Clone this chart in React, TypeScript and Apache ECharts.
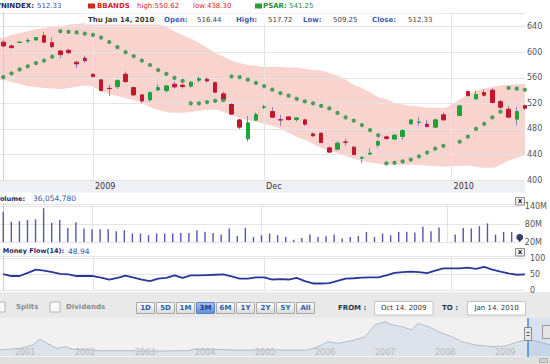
import React, { useEffect, useRef } from "react";
import * as echarts from "echarts";

// ---------- DATA ----------
const opens = [615.6, 609.8, 615.2, 617.5, 619.2, 625.9, 615, 602, 603.1, 584.3, 590.6, 565.6, 556.7, 543.5, 546.2, 565.6, 544.6, 533.2, 525.4, 541, 540, 549.9, 548.4, 546.8, 556.2, 557.8, 552.4, 534.8, 518.1, 494.1, 464.4, 493.7, 513.5, 507.1, 494.3, 498.8, 494.6, 494.1, 472.2, 473.3, 450.3, 448.3, 459.5, 451.4, 434.2, 440.5, 454.6, 467.5, 464, 468, 487.9, 490.2, 487.4, 482.7, 502, null, 500.9, 538.4, 527, 536.8, 540.6, 522.7, 510.8, 495.2, 516.44];
const closes = [609.8, 607.2, 616, 618.5, 622.8, 615.6, 608.7, 596.2, 599.3, 581.7, 586.8, 561.8, 540, 543, 555.6, 554, 533.2, 523.8, 536.8, 544.6, 547.3, 545.7, 546.2, 553.1, 558.7, 555.1, 537.4, 526.5, 503.1, 482.7, 489.4, 502.4, 514.5, 498.3, 494, 494.6, 497.2, 487.4, 469.1, 458.6, 443.6, 457.7, 459.2, 439.9, 435.2, 442, 460.2, 464.9, 470.2, 477.4, 494.1, 490.8, 483.6, 494.1, 494.1, null, 516, 532.1, 533.7, 532.7, 521.2, 513.9, 498.3, 507.1, 512.33];
const lows = [608, 605.6, 614.5, 614, 618.5, 615, 607, 590.6, 596.9, 575, 583.7, 561, 539, 531.7, 542.6, 552.4, 531.7, 520.2, 522.7, 539, 536.8, 543.7, 543, 544.6, 552.4, 552.4, 536.8, 525.4, 502, 479.6, 460.2, 492.6, 510.9, 496.8, 484.8, 493, 491.5, 484.8, 468, 457.7, 442, 446.1, 453.5, 438.3, 426.4, 439.4, 450.8, 462.9, 462.9, 462.9, 486.5, 484.8, 482.7, 481.5, 493, null, 499.5, 530.6, 525.4, 530.6, 520.2, 511.8, 497.3, 485.2, 509.25];
const highs = [619.2, 611.9, 616.5, 621.8, 623.5, 632.2, 623.4, 603, 604.7, 586.8, 594.7, 567, 557.8, 548.9, 557.8, 569.6, 546.2, 534.5, 539, 549.9, 548.4, 554, 550.4, 555.1, 561.8, 560.9, 554, 538.4, 520.2, 495.7, 500.4, 505.5, 517.6, 514, 502, 499.8, 498.3, 495.7, 474.3, 474.3, 452.4, 460.8, 464.4, 453.5, 437.4, 449.9, 462.9, 469.6, 471.8, 479.6, 495, 498.3, 494.1, 496, 505.5, null, 517.5, 540, 539.5, 542.1, 543.7, 525.4, 516, 514, 517.72];
const psar = [561, 567, 573, 578, 583, 587, 593, 633, 632, 631, 629, 627, 623, 616, 608, 600, 594, 587, 580, 572, 566, 560, 555, 520, 520, 522, 524, 525, 562, 561, 557, 552, 547, 541.5, 536, 532, 527, 523, 520, 516, 512, 505, 498, 493, 486, 478, 470, 426, 427, 429, 432, 437, 443, 449, 453.5, null, 460, 468, 480, 488, 498, 507, 544, 543, 541.25];
const bbUpper = [623, 627, 630, 633, 636, 638, 640, 641, 643, 644, 646, 647, 647, 648, 649, 649, 649, 648, 647, 645, 640, 633, 627, 621, 615, 607, 599, 593, 587, 583, 580, 579, 577, 577, 577, 576, 576, 574, 572, 571, 568, 563, 557, 549, 544, 537, 530, 526, 521, 518, 516, 515, 513, 513, 513, null, 526, 533, 540, 543, 546, 548, 549, 550, 550.62];
const bbLower = [556.7, 553.5, 550.4, 547.3, 545.7, 544.2, 543.4, 542.6, 544.2, 546, 548, 546, 539, 534.8, 531.6, 528.5, 525.4, 520.7, 514.4, 509.8, 506.6, 505.1, 505.1, 506.6, 508.2, 509.8, 509.8, 506.6, 501.9, 497.2, 494.1, 491, 487.9, 484.8, 480.1, 473.8, 467.5, 462.9, 456.6, 450.3, 445.7, 442.6, 437.9, 433.2, 430.1, 427, 425.4, 423.8, 423.8, 423.8, 423.8, 423.8, 422.3, 422.3, 420.8, null, 422.3, 422.3, 420.8, 419.2, 419.2, 423.8, 430.1, 434.8, 438.3];
const volumeM = [123, 89, 91, 95, 97, 135, 85.5, 95, 68, 87, 66, 63, 63, 63, 57, 60, 49, 49, 43, 49, 49, 49, 51, 51, 60, 54.5, 51, 45.5, 66, 40.7, 68, 37, 43, 49, 43, 37, 28, 34, 45.5, 37, 39.7, 45.5, 31.7, 37, 40.7, 54.5, 37, 49, 43, 54.5, 54.5, 52.4, 71.7, 57, 69.7, null, 45.5, 68, 66, 74, 83.4, 45.5, 54.5, 54.5, 36.05];
const moneyFlow = [50, 44, 44, 54, 64, 61, 56, 51, 49, 44, 44, 44, 39, 33, 38, 45, 39, 33, 28, 36, 38, 46, 38, 46, 46, 47, 48, 49, 43, 36, 36, 40, 40, 33, 34, 33, 38, 28, 20.5, 20.5, 21.5, 28.5, 36, 37, 39, 40, 40, 46, 54, 56, 58, 56, 53, 61, 68, null, 68, 70.5, 66.5, 72.7, 64.4, 58, 52, 48, 48.94];
const xTickIdx = [11, 32, 55];
const xTickLabels = ["2009", "Dec", "2010"];
const navYears = [2000.78, 2001.12, 2001.33, 2001.45, 2001.57, 2001.73, 2001.87, 2002.0, 2002.45, 2002.95, 2003.45, 2003.9, 2004.03, 2004.33, 2004.7, 2005.37, 2005.92, 2006.08, 2006.25, 2006.42, 2006.65, 2006.87, 2007.03, 2007.2, 2007.32, 2007.48, 2007.65, 2007.75, 2007.92, 2008.15, 2008.32, 2008.48, 2008.7, 2008.98, 2009.2, 2009.37, 2009.58, 2009.82, 2009.95];
const navValues = [205, 263, 376, 571, 434, 263, 318, 229, 181, 181, 171, 181, 229, 229, 205, 205, 205, 318, 489, 434, 523, 660, 1060, 1173, 1060, 1002, 889, 1118, 1002, 776, 660, 489, 376, 318, 342, 455, 571, 455, 376];
const navLabelYears = [2001, 2002, 2003, 2004, 2005, 2006, 2007, 2008, 2009];
const rangeButtons = ["1D", "5D", "1M", "3M", "6M", "1Y", "2Y", "5Y", "All"];
const selectedButton = "3M";

// ---------- STYLE ----------
const FONT = '"DejaVu Sans", Verdana, sans-serif';
const GRID_LINE = "#e4e4e4";
const RED = "#c3162d";
const GREEN = "#1ea33b";
const WICK = "#8585c6";
const X_MIN = -0.405;
const X_MAX = 64.01;

function txt(x: number, y: number, text: string, fill: string, opts: any = {}) {
  const size = opts.size ?? 7;
  const align = opts.align ?? "left";
  return {
    type: "text",
    x,
    y,
    z: opts.z ?? 21,
    silent: true,
    style: {
      text,
      fill,
      font: `${opts.bold ? "bold " : ""}${size}px ${FONT}`,
      textAlign: align,
      textVerticalAlign: "middle",
      align,
      verticalAlign: "middle",
    },
  };
}

function buildOption() {
  const idxs = opens.map((_, i) => i).filter((i) => opens[i] != null);
  const wickData = idxs.map((i) => [i, opens[i], closes[i], lows[i], highs[i]]);
  const bodyData = idxs.map((i) => [
    i,
    opens[i],
    closes[i],
    Math.min(opens[i] as number, closes[i] as number),
    Math.max(opens[i] as number, closes[i] as number),
  ]);
  const bbIdx = bbUpper.map((_, i) => i).filter((i) => bbUpper[i] != null);
  const upperPts = [[X_MIN, bbUpper[0]], ...bbIdx.map((i) => [i, bbUpper[i]])];
  const lowerPts = [[X_MIN, bbLower[0]], ...bbIdx.map((i) => [i, bbLower[i]])];
  const psarPts = psar.map((v, i) => [i, v]).filter((p) => p[1] != null);
  const volPts = volumeM.map((v, i) => [i, v]).filter((p) => p[1] != null);
  const mfPts = moneyFlow.map((v, i) => [i, v]).filter((p) => p[1] != null);
  const navPts = navYears.map((y, i) => [y, navValues[i]]);
  const last = volumeM.length - 1;

  const xAxisFor = (gridIndex: number, labels: boolean) => ({
    type: "value",
    gridIndex,
    min: X_MIN,
    max: X_MAX,
    axisLine: { show: false },
    axisTick: { show: false, customValues: xTickIdx },
    splitLine: { show: true, lineStyle: { color: GRID_LINE, width: 1 } },
    axisLabel: labels
      ? {
          show: true,
          customValues: xTickIdx,
          formatter: (v: number) => xTickLabels[xTickIdx.indexOf(Math.round(v))] ?? "",
          align: "left",
          margin: 2,
          padding: [0, 0, 0, 2],
          color: "#333",
          fontSize: 8,
          fontFamily: FONT,
        }
      : { show: false },
  });

  const graphic: any[] = [];
  // x label strip
  graphic.push({ type: "rect", z: -5, silent: true, shape: { x: 0, y: 180.5, width: 525, height: 12 }, style: { fill: "#eef0f5" } });
  // header row 1
  graphic.push(txt(34, 6, "VNINDEX:", "#1b2a60", { bold: true, align: "right" }));
  graphic.push(txt(37, 6, "512.33", "#3456ad"));
  graphic.push({ type: "rect", z: 21, silent: true, shape: { x: 88, y: 3.5, width: 7, height: 5 }, style: { fill: "#d8261c" } });
  graphic.push(txt(97, 6, "BBANDS", "#d8261c", { bold: true }));
  graphic.push(txt(137, 6, "high:550.62", "#d8261c"));
  graphic.push(txt(193, 6, "low:438.30", "#d8261c"));
  graphic.push({ type: "rect", z: 21, silent: true, shape: { x: 255, y: 3.5, width: 7, height: 5 }, style: { fill: "#2e9a3a" } });
  graphic.push(txt(263, 6, "PSAR:", "#2e8b34", { bold: true }));
  graphic.push(txt(289, 6, "541.25", "#2e8b34"));
  // header row 2 (box over plot)
  graphic.push({ type: "rect", z: 20, silent: true, shape: { x: 85, y: 13.5, width: 358, height: 11 }, style: { fill: "#ffffff" } });
  const row2: [number, string, string, boolean][] = [
    [88, "Thu Jan 14, 2010", "#3a3a3a", true],
    [164, "Open:", "#3d5fb5", true],
    [197, "516.44", "#444", false],
    [236, "High:", "#3d5fb5", true],
    [268, "517.72", "#444", false],
    [303, "Low:", "#3d5fb5", true],
    [333, "509.25", "#444", false],
    [372, "Close:", "#3d5fb5", true],
    [408, "512.33", "#444", false],
  ];
  row2.forEach(([x, t, c, b]) => graphic.push(txt(x, 19.5, t, c, { bold: b })));
  // Volume header
  graphic.push(txt(25, 198.5, "Volume:", "#1b2a60", { bold: true, align: "right", size: 6.5 }));
  graphic.push(txt(33, 198.5, "36,054,780", "#3456ad", { size: 7.5 }));
  // Money flow header
  graphic.push(txt(64, 251, "Money Flow(14):", "#1b2a60", { bold: true, align: "right", size: 6.5 }));
  graphic.push(txt(68, 251, "48.94", "#3456ad", { size: 7.5 }));
  // close boxes
  [197.5, 248.5].forEach((y) => {
    graphic.push({ type: "rect", z: 21, silent: true, shape: { x: 515.5, y, width: 9, height: 7.5 }, style: { fill: "#f2f2f2", stroke: "#8a8a8a", lineWidth: 1 } });
    graphic.push(txt(520, y + 3.6, "x", "#222", { bold: true, align: "center", size: 7 }));
  });
  // toolbar and navigator backgrounds
  graphic.push({ type: "rect", z: -5, silent: true, shape: { x: 0, y: 292, width: 550, height: 26 }, style: { fill: "#e9e9e9" } });
  graphic.push({ type: "rect", z: -5, silent: true, shape: { x: 0, y: 318, width: 550, height: 39 }, style: { fill: "#f1f1f1" } });
  graphic.push({ type: "rect", z: -5, silent: true, shape: { x: 0, y: 357, width: 550, height: 7 }, style: { fill: "#e0e0e0" } });
  // checkboxes
  [[-5, 302], [50, 302]].forEach(([x, y]) => {
    graphic.push({ type: "rect", z: 10, silent: true, shape: { x, y, width: 10, height: 10 }, style: { fill: "#fafafa", stroke: "#b5b5b5", lineWidth: 1 } });
  });
  graphic.push(txt(16, 307, "Splits", "#8a8a8a", { bold: true }));
  graphic.push(txt(66, 307, "Dividends", "#8a8a8a", { bold: true }));
  // buttons
  rangeButtons.forEach((b, i) => {
    const sel = b === selectedButton;
    const x = 136.5 + i * 20;
    graphic.push({
      type: "rect",
      z: 10,
      silent: true,
      shape: { x, y: 302.5, width: 18, height: 11 },
      style: {
        fill: sel
          ? new echarts.graphic.LinearGradient(0, 0, 0, 1, [{ offset: 0, color: "#a9c4ee" }, { offset: 1, color: "#5d8dd6" }])
          : new echarts.graphic.LinearGradient(0, 0, 0, 1, [{ offset: 0, color: "#ffffff" }, { offset: 1, color: "#dadada" }]),
        stroke: sel ? "#5a7fc0" : "#a9a9a9",
        lineWidth: 1,
      },
    });
    graphic.push(txt(x + 9, 308, b, sel ? "#1c3a86" : "#2b5cb8", { bold: true, align: "center", size: 7 }));
  });
  // FROM / TO
  graphic.push(txt(338, 308, "FROM :", "#1d3b4a", { bold: true }));
  graphic.push({ type: "rect", z: 10, silent: true, shape: { x: 374.5, y: 301.5, width: 58.5, height: 13.5 }, style: { fill: "#ffffff", stroke: "#c4c4c4", lineWidth: 1 } });
  graphic.push(txt(403.7, 308.3, "Oct 14. 2009", "#333", { align: "center", size: 7 }));
  graphic.push(txt(442, 308, "TO :", "#1d3b4a", { bold: true }));
  graphic.push({ type: "rect", z: 10, silent: true, shape: { x: 467.5, y: 301.5, width: 58, height: 13.5 }, style: { fill: "#ffffff", stroke: "#c4c4c4", lineWidth: 1 } });
  graphic.push(txt(496.5, 308.3, "Jan 14. 2010", "#333", { align: "center", size: 7 }));
  // navigator selection & handles
  graphic.push({ type: "rect", z: 10, silent: true, shape: { x: 528, y: 318, width: 22, height: 39 }, style: { fill: "rgba(90,140,215,0.16)" } });
  graphic.push({ type: "line", z: 11, silent: true, shape: { x1: 528, y1: 318, x2: 528, y2: 357 }, style: { stroke: "#3d8ee0", lineWidth: 1.5 } });
  graphic.push({ type: "rect", z: 12, silent: true, shape: { x: 524.5, y: 327.5, width: 7, height: 13 }, style: { fill: "#e6e6e6", stroke: "#8a8a8a", lineWidth: 1 } });
  graphic.push({ type: "line", z: 13, silent: true, shape: { x1: 526.5, y1: 332.5, x2: 529.5, y2: 332.5 }, style: { stroke: "#555", lineWidth: 1 } });
  graphic.push({ type: "line", z: 13, silent: true, shape: { x1: 526.5, y1: 335.5, x2: 529.5, y2: 335.5 }, style: { stroke: "#555", lineWidth: 1 } });
  graphic.push({ type: "rect", z: 12, silent: true, shape: { x: 542.5, y: 325.5, width: 8, height: 13 }, style: { fill: "#e6e6e6", stroke: "#9a9a9a", lineWidth: 1 } });
  graphic.push({ type: "rect", z: 12, silent: true, shape: { x: 539.5, y: 358.5, width: 8, height: 4 }, style: { fill: "#cfcfcf", stroke: "#b0b0b0", lineWidth: 1 } });

  return {
    animation: false,
    backgroundColor: "#ffffff",
    textStyle: { fontFamily: FONT },
    grid: [
      { left: 0, top: 13, width: 525, height: 167 },
      { left: 0, top: 203.8, width: 525, height: 38.2 },
      { left: 0, top: 256, width: 525, height: 34 },
      { left: 0, top: 318, width: 550, height: 38 },
    ],
    xAxis: [
      xAxisFor(0, true),
      xAxisFor(1, false),
      xAxisFor(2, false),
      {
        type: "value",
        gridIndex: 3,
        min: 2000.783,
        max: 2009.95,
        z: 5,
        axisLine: { show: false },
        axisTick: { show: false, customValues: navLabelYears },
        splitLine: { show: false },
        axisLabel: {
          show: true,
          inside: true,
          customValues: navLabelYears,
          formatter: (v: number) => String(Math.round(v)),
          align: "left",
          verticalAlign: "middle",
          margin: 4,
          padding: [0, 0, 0, 2],
          color: "#b9b9b9",
          fontSize: 8,
          fontFamily: FONT,
        },
      },
    ],
    yAxis: [
      {
        type: "value",
        gridIndex: 0,
        position: "right",
        min: 400,
        max: 661.4,
        interval: 40,
        axisLine: { show: true, lineStyle: { color: "#cfcfcf" } },
        axisTick: { show: false },
        splitLine: { show: true, lineStyle: { color: GRID_LINE } },
        axisLabel: { color: "#555", fontSize: 8, fontFamily: FONT, margin: 2, formatter: (v: number) => (v > 640 ? "" : String(v)) },
      },
      {
        type: "value",
        gridIndex: 1,
        position: "right",
        min: 20,
        max: 150,
        interval: 60,
        axisLine: { show: true, lineStyle: { color: "#cfcfcf" } },
        axisTick: { show: false },
        splitLine: { show: true, lineStyle: { color: GRID_LINE } },
        axisLabel: { color: "#555", fontSize: 8, fontFamily: FONT, margin: 5, formatter: (v: number) => (v > 140 ? "" : v + "M") },
      },
      {
        type: "value",
        gridIndex: 2,
        position: "right",
        min: 0,
        max: 107,
        interval: 50,
        axisLine: { show: true, lineStyle: { color: "#cfcfcf" } },
        axisTick: { show: false },
        splitLine: { show: true, lineStyle: { color: GRID_LINE } },
        axisLabel: { color: "#555", fontSize: 8, fontFamily: FONT, margin: 5, formatter: (v: number) => (v > 100 ? "" : String(v)) },
      },
      { type: "value", gridIndex: 3, min: 0, max: 1300, show: false },
    ],
    series: [
      {
        type: "line",
        xAxisIndex: 0,
        yAxisIndex: 0,
        data: upperPts,
        smooth: 0.35,
        symbol: "none",
        silent: true,
        z: -1,
        lineStyle: { width: 0 },
        areaStyle: { color: "#f9d3ce", opacity: 1, origin: "start" },
      },
      {
        type: "line",
        xAxisIndex: 0,
        yAxisIndex: 0,
        data: lowerPts,
        smooth: 0.35,
        symbol: "none",
        silent: true,
        z: -1,
        lineStyle: { width: 0 },
        areaStyle: { color: "#ffffff", opacity: 1, origin: "start" },
      },
      {
        type: "candlestick",
        xAxisIndex: 0,
        yAxisIndex: 0,
        data: wickData,
        barWidth: 1,
        z: 2,
        itemStyle: { color: WICK, color0: WICK, borderColor: WICK, borderColor0: WICK, borderWidth: 1 },
      },
      {
        type: "candlestick",
        xAxisIndex: 0,
        yAxisIndex: 0,
        data: bodyData,
        barWidth: 4,
        z: 3,
        itemStyle: { color: GREEN, color0: RED, borderColor: GREEN, borderColor0: RED, borderWidth: 1 },
      },
      {
        type: "scatter",
        xAxisIndex: 0,
        yAxisIndex: 0,
        data: psarPts,
        symbolSize: 4.3,
        z: 4,
        itemStyle: { color: "#23913e" },
      },
      {
        type: "bar",
        xAxisIndex: 1,
        yAxisIndex: 1,
        data: volPts,
        barWidth: 1.4,
        itemStyle: { color: "#5656ad" },
      },
      {
        type: "scatter",
        xAxisIndex: 1,
        yAxisIndex: 1,
        data: [[last, volumeM[last]]],
        symbolSize: 7,
        clip: false,
        z: 5,
        itemStyle: { color: "#12124e" },
      },
      {
        type: "line",
        xAxisIndex: 2,
        yAxisIndex: 2,
        data: mfPts,
        symbol: "none",
        lineStyle: { color: "#2a3799", width: 1.8 },
      },
      {
        type: "line",
        xAxisIndex: 3,
        yAxisIndex: 3,
        data: navPts,
        symbol: "none",
        z: -2,
        lineStyle: { color: "#b3bccb", width: 1 },
        areaStyle: { color: "#dde3eb", opacity: 1 },
      },
    ],
    graphic,
  };
}

export default function App() {
  const ref = useRef<HTMLDivElement>(null);
  useEffect(() => {
    const chart = echarts.init(ref.current!, null, { renderer: "svg" });
    chart.setOption(buildOption() as any);
    return () => chart.dispose();
  }, []);
  return (
    <div
      ref={ref}
      style={{ position: "absolute", left: 0, top: 0, width: 550, height: 364, background: "#fff" }}
    />
  );
}
